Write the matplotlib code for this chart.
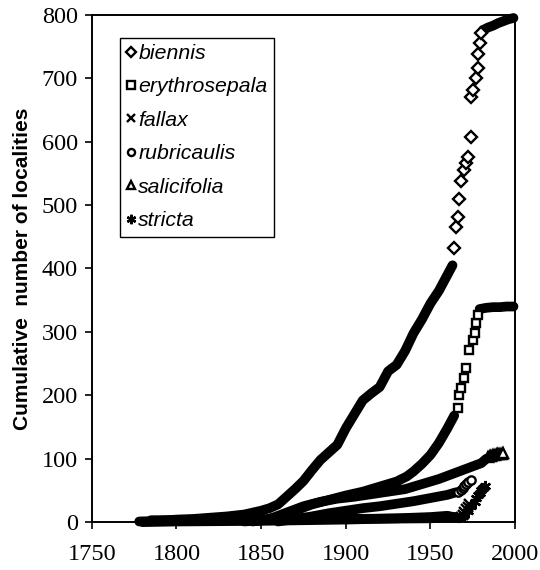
import matplotlib
matplotlib.use("Agg")
import matplotlib.pyplot as plt

# cumulative number of localities per taxon
# "band" = dense run of records (drawn as a solid stroke), "pts" = separate records,
# "top" = dense run after the last separate records

biennis_band_yr = [1778, 1790, 1800, 1810, 1820, 1830, 1840, 1845, 1850, 1855, 1860, 1865,
                   1870, 1875, 1880, 1885, 1890, 1895, 1900, 1905, 1910, 1915, 1920, 1925,
                   1930, 1935, 1940, 1945, 1950, 1955, 1960, 1963]
biennis_band_n = [1, 2, 4, 5, 7, 9, 12, 15, 18, 22, 28, 40, 52, 65, 82, 98, 110, 122, 148,
                  170, 192, 203, 213, 238, 248, 270, 298, 320, 345, 365, 390, 405]
biennis_pts_yr = [1964, 1965, 1966, 1967, 1968, 1970, 1971, 1972, 1974, 1974, 1975, 1977,
                  1978, 1978, 1979, 1980]
biennis_pts_n = [433, 466, 481, 509, 538, 556, 566, 576, 607, 671, 681, 700, 716, 739, 755,
                 771]
biennis_top_yr = [1981, 1984, 1987, 1990, 1993, 1996, 1999]
biennis_top_n = [776, 780, 783, 787, 790, 793, 795]

erythro_band_yr = [1840, 1850, 1860, 1870, 1880, 1890, 1900, 1910, 1920, 1930, 1936, 1940,
                   1945, 1950, 1955, 1960, 1964]
erythro_band_n = [1, 3, 8, 18, 28, 35, 42, 48, 56, 64, 72, 80, 92, 106, 125, 148, 168]
erythro_pts_yr = [1966, 1967, 1968, 1970, 1971, 1973, 1975, 1976, 1977, 1978]
erythro_pts_n = [180, 200, 211, 227, 243, 271, 287, 298, 314, 326]
erythro_top_yr = [1979, 1983, 1987, 1991, 1995, 1999]
erythro_top_n = [336, 338, 339, 339, 340, 340]

fallax_band_yr = [1780, 1800, 1850, 1900, 1930, 1950, 1960, 1967]
fallax_band_n = [0, 1, 2, 4, 6, 8, 10, 6]
fallax_pts_yr = [1968, 1969, 1970, 1971, 1972, 1973]
fallax_pts_n = [8, 12, 16, 20, 24, 28]

rubri_band_yr = [1860, 1870, 1880, 1890, 1900, 1910, 1920, 1930, 1940, 1950, 1960, 1965]
rubri_band_n = [1, 5, 9, 14, 18, 22, 25, 29, 33, 38, 43, 47]
rubri_pts_yr = [1966, 1968, 1969, 1970, 1971, 1972, 1974]
rubri_pts_n = [48, 51, 54, 57, 60, 63, 66]

salici_band_yr = [1845, 1855, 1865, 1875, 1885, 1895, 1905, 1915, 1925, 1935, 1945, 1955,
                  1965, 1975, 1980, 1983]
salici_band_n = [1, 5, 15, 25, 32, 37, 40, 44, 48, 52, 60, 68, 78, 88, 93, 100]
salici_pts_yr = [1984, 1985, 1986, 1987, 1988, 1989, 1990, 1991, 1992, 1993]
salici_pts_n = [103, 104, 105, 106, 106, 107, 107, 108, 108, 109]

stricta_band_yr = [1785, 1850, 1900, 1950, 1965]
stricta_band_n = [3, 4, 5, 6, 8]
stricta_pts_yr = [1970, 1972, 1974, 1976, 1977, 1978, 1979, 1980, 1981, 1982]
stricta_pts_n = [12, 18, 25, 32, 38, 42, 46, 50, 54, 57]

names = ["biennis", "erythrosepala", "fallax", "rubricaulis", "salicifolia", "stricta"]
markers = ["D", "s", "x", "o", "^", (6, 2, 0)]
sizes = [6, 6, 6.5, 6, 6.5, 8]

bands = [
    (biennis_band_yr, biennis_band_n), (biennis_top_yr, biennis_top_n),
    (erythro_band_yr, erythro_band_n), (erythro_top_yr, erythro_top_n),
    (fallax_band_yr, fallax_band_n), (rubri_band_yr, rubri_band_n),
    (salici_band_yr, salici_band_n), (stricta_band_yr, stricta_band_n),
]
points = [
    (biennis_pts_yr, biennis_pts_n), (erythro_pts_yr, erythro_pts_n),
    (fallax_pts_yr, fallax_pts_n), (rubri_pts_yr, rubri_pts_n),
    (salici_pts_yr, salici_pts_n), (stricta_pts_yr, stricta_pts_n),
]

fig = plt.figure(figsize=(5.4, 5.7), dpi=100)
ax = fig.add_axes([0.170, 0.084, 0.784, 0.890])

for by, bn in bands:
    ax.plot(by, bn, color="black", lw=7, solid_capstyle="round", solid_joinstyle="round",
            clip_on=False)

handles = []
for (py, pn), name, m, ms in zip(points, names, markers, sizes):
    h, = ax.plot(py, pn, ls="none", marker=m, ms=ms, mfc="white", mec="black", mew=1.7,
                 label=name, clip_on=False)
    handles.append(h)

ax.set_xlim(1750, 2000)
ax.set_ylim(0, 800)
ax.set_xticks([1750, 1800, 1850, 1900, 1950, 2000])
ax.set_yticks(range(0, 801, 100))
for s in ax.spines.values():
    s.set_linewidth(1.4)
ax.tick_params(direction="out", length=5, width=1.2, top=False, right=False)
ax.tick_params(axis="x", pad=11)
ax.tick_params(axis="y", pad=5)
for lab in ax.get_xticklabels() + ax.get_yticklabels():
    lab.set_fontfamily(["Liberation Serif", "DejaVu Serif"])
    lab.set_fontsize(17.5)

ax.set_ylabel("Cumulative  number of localities", fontfamily=["Liberation Sans", "DejaVu Sans"],
              fontweight="bold", fontsize=15, labelpad=7)

leg = ax.legend(handles=handles, loc="upper left", bbox_to_anchor=(0.066, 0.955),
                borderaxespad=0, fancybox=False, edgecolor="black", framealpha=1,
                handlelength=0.45, handletextpad=0.12, labelspacing=0.68, borderpad=0.3,
                markerscale=0.85,
                prop={"family": ["Liberation Sans", "DejaVu Sans"], "style": "italic", "size": 15.3})
leg.get_frame().set_linewidth(1.0)

fig.savefig("out.png", dpi=100)
